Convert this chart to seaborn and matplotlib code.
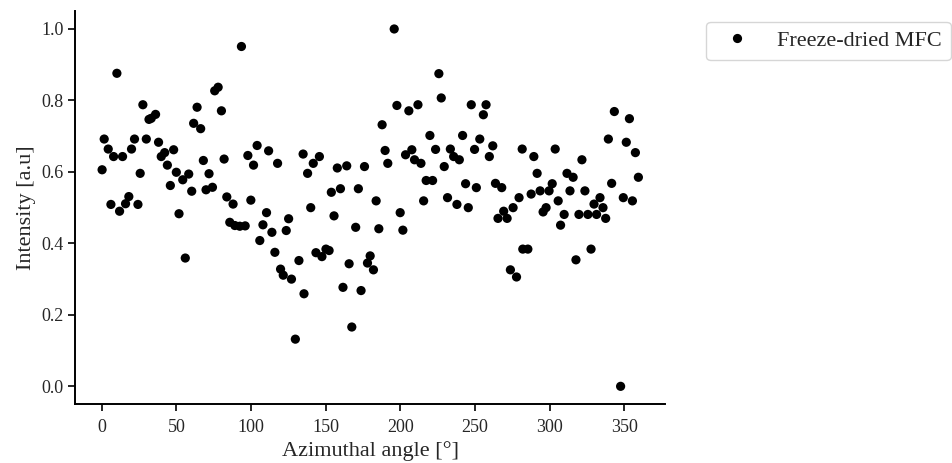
import matplotlib
matplotlib.use("Agg")
import matplotlib.pyplot as plt
import seaborn as sns
import pandas as pd

# azimuthal angle (deg) and normalised intensity
angle = [0.2, 1.6, 4.3, 6.1, 7.9, 10.1, 11.9, 13.9, 15.9, 18.1,
         19.9, 21.9, 24.2, 25.7, 27.5, 29.8, 31.6, 33.1, 36.0, 38.0,
         39.8, 42.1, 43.9, 45.9, 48.1, 49.9, 51.7, 54.2, 55.9, 58.2,
         60.2, 61.5, 63.8, 66.2, 68.0, 69.8, 71.8, 74.1, 75.6, 77.9,
         80.1, 81.9, 83.7, 85.7, 87.9, 89.1, 92.4, 93.5, 96.0, 97.8,
         99.8, 101.6, 104.0, 105.8, 107.9, 110.3, 111.7, 113.9, 115.9, 117.7,
         119.7, 121.5, 123.5, 125.1, 127.0, 129.6, 132.0, 134.8, 135.4, 137.8,
         139.9, 141.6, 143.4, 145.7, 147.4, 150.1, 152.2, 153.7, 155.5, 157.7,
         159.8, 161.5, 164.0, 165.6, 167.4, 170.0, 171.8, 173.6, 175.9, 177.9,
         179.7, 181.9, 183.7, 185.5, 187.7, 189.7, 191.5, 195.8, 197.6, 199.8,
         201.6, 203.4, 205.6, 207.6, 209.4, 211.7, 213.7, 215.5, 217.2, 219.7,
         221.5, 223.5, 225.7, 227.3, 229.3, 231.5, 233.4, 235.6, 237.8, 239.4,
         241.6, 243.6, 245.4, 247.4, 249.6, 250.8, 253.1, 255.5, 257.3, 259.5,
         261.8, 263.6, 265.3, 267.8, 269.1, 271.4, 273.6, 275.4, 277.7, 279.4,
         281.5, 281.9, 285.3, 287.5, 289.3, 291.5, 293.5, 295.5, 297.5, 299.5,
         301.6, 303.6, 305.6, 307.2, 309.6, 311.5, 313.5, 315.6, 317.5, 319.5,
         321.5, 323.5, 325.5, 327.6, 329.6, 331.3, 333.6, 335.6, 337.4, 339.2,
         341.4, 343.2, 347.4, 349.2, 351.2, 353.3, 355.3, 357.3, 359.3]

intensity = [0.606, 0.692, 0.664, 0.509, 0.643, 0.876, 0.490, 0.643, 0.511, 0.531,
             0.664, 0.692, 0.509, 0.596, 0.788, 0.692, 0.747, 0.750, 0.761, 0.683,
             0.643, 0.654, 0.619, 0.562, 0.662, 0.599, 0.483, 0.578, 0.359, 0.594,
             0.546, 0.736, 0.781, 0.721, 0.632, 0.550, 0.595, 0.557, 0.827, 0.837,
             0.771, 0.636, 0.530, 0.459, 0.510, 0.450, 0.448, 0.951, 0.449, 0.646,
             0.521, 0.619, 0.674, 0.408, 0.452, 0.486, 0.659, 0.431, 0.375, 0.624,
             0.328, 0.311, 0.436, 0.469, 0.300, 0.132, 0.352, 0.650, 0.259, 0.596,
             0.500, 0.624, 0.374, 0.643, 0.363, 0.384, 0.380, 0.543, 0.477, 0.611,
             0.553, 0.277, 0.617, 0.343, 0.166, 0.445, 0.553, 0.268, 0.615, 0.345,
             0.365, 0.326, 0.519, 0.441, 0.732, 0.660, 0.624, 1.000, 0.786, 0.486,
             0.437, 0.648, 0.771, 0.662, 0.634, 0.788, 0.624, 0.519, 0.576, 0.702,
             0.576, 0.663, 0.875, 0.807, 0.615, 0.528, 0.664, 0.643, 0.509, 0.634,
             0.702, 0.567, 0.500, 0.788, 0.663, 0.556, 0.692, 0.760, 0.788, 0.643,
             0.673, 0.568, 0.470, 0.556, 0.490, 0.470, 0.326, 0.500, 0.306, 0.528,
             0.664, 0.384, 0.384, 0.538, 0.643, 0.596, 0.547, 0.488, 0.500, 0.547,
             0.567, 0.664, 0.519, 0.451, 0.481, 0.596, 0.547, 0.585, 0.354, 0.481,
             0.634, 0.547, 0.481, 0.384, 0.510, 0.481, 0.528, 0.500, 0.470, 0.692,
             0.568, 0.769, 0.000, 0.528, 0.683, 0.749, 0.519, 0.654, 0.585]

label = "Freeze-dried MFC"

df = pd.DataFrame({"angle": angle, "intensity": intensity, "sample": label})

sns.set_style("ticks")
plt.rcParams["font.family"] = ["Liberation Serif", "DejaVu Serif"]

fig, ax = plt.subplots(figsize=(9.53, 4.63), dpi=100)
fig.subplots_adjust(left=0.079, right=0.698, bottom=0.127, top=0.976)

sns.scatterplot(data=df, x="angle", y="intensity", hue="sample",
                palette=["black"], s=44, linewidth=0, ax=ax)

ax.set_xticks([0, 50, 100, 150, 200, 250, 300, 350])
ax.set_yticks([0.0, 0.2, 0.4, 0.6, 0.8, 1.0])
ax.set_xlabel("Azimuthal angle [°]", fontsize=16, labelpad=3)
ax.set_ylabel("Intensity [a.u]", fontsize=16, labelpad=4)
ax.tick_params(labelsize=13, width=1.2, length=5, color="black")
ax.tick_params(axis="x", pad=6)
for sp in ("left", "bottom"):
    ax.spines[sp].set_linewidth(1.4)
    ax.spines[sp].set_color("black")
sns.despine(ax=ax)

ax.legend(loc="upper left", bbox_to_anchor=(0.741, 0.953),
          bbox_transform=fig.transFigure, fontsize=16, frameon=True,
          borderaxespad=0)

fig.savefig("out.png", dpi=100)
